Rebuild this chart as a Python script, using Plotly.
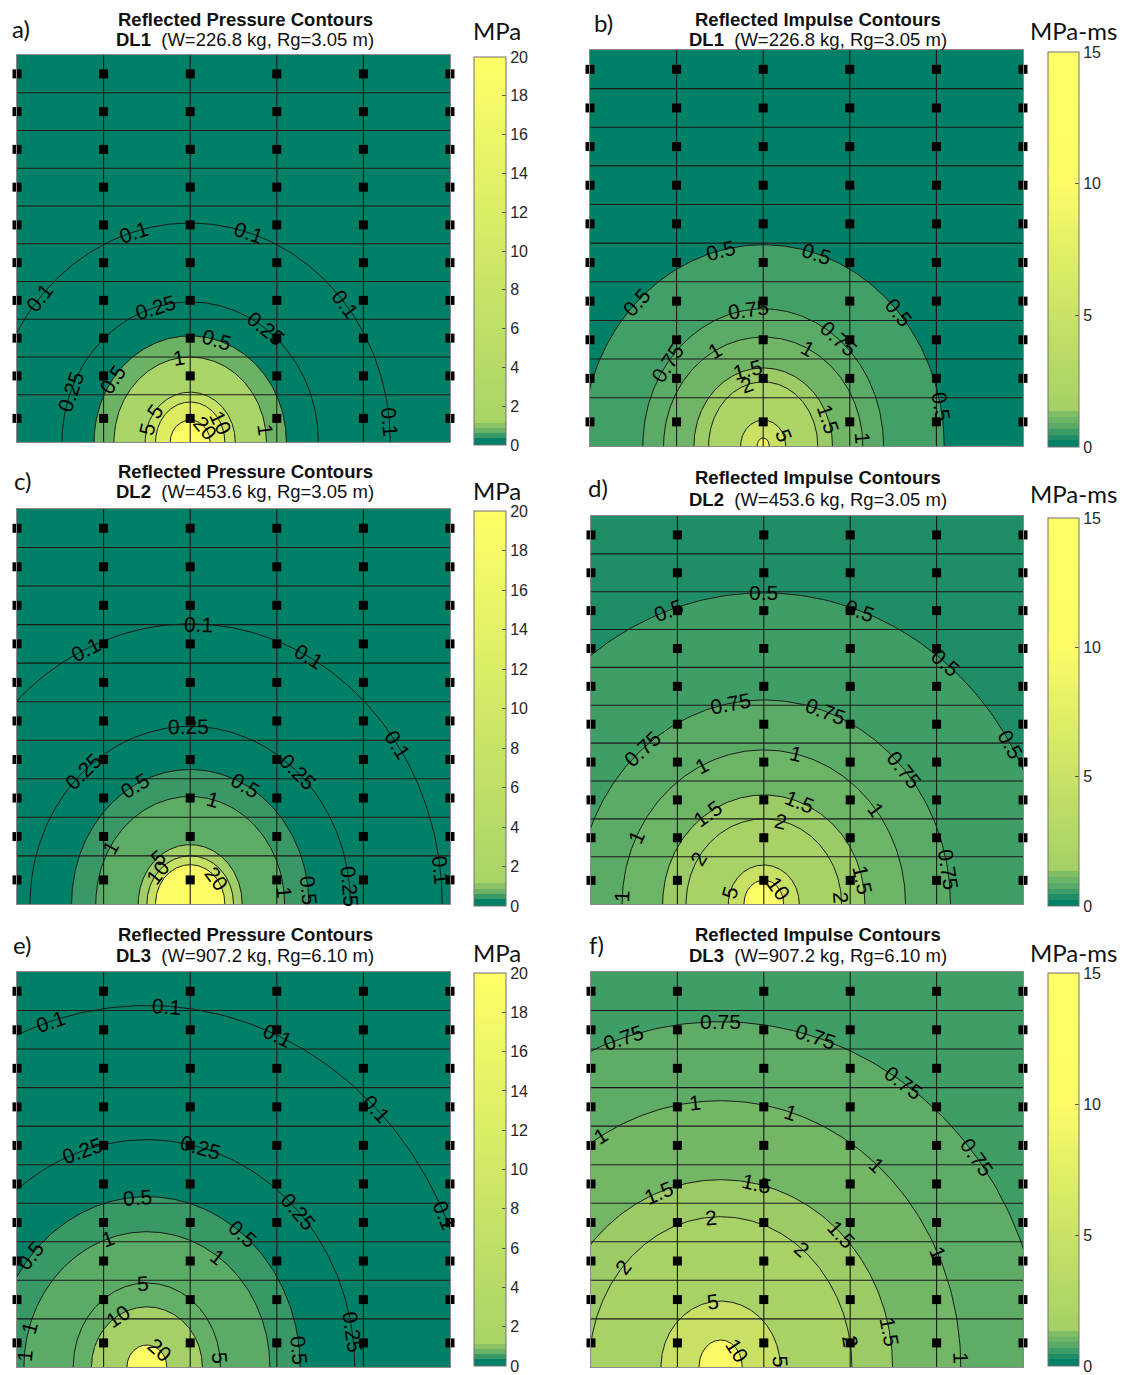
import math
import plotly.graph_objects as go

W, H = 1126, 1367      # figure size (page adds an 8 px body margin)
OFF = 8                # body margin of the page, px

# ---------------- data ----------------
# wall grid (x: column index, y: height units above the base)
COLUMN_X = [0, 1, 2, 3, 4, 5]
VLINE_X = [1, 2, 3, 4]
HLINE_Y = [1.25, 2.25, 3.25, 4.25, 5.25, 6.25, 7.25, 8.25, 9.25]
GAUGE_Y = [0.625, 1.75, 2.75, 3.75, 4.75, 5.75, 6.75, 7.75, 8.75, 9.75]
X_RANGE = [0, 5]
Y_RANGE = [0, 10.25]

P_LEVELS = [0.1, 0.25, 0.5, 1, 5, 10, 20]
I_LEVELS = [0.5, 0.75, 1, 1.5, 2, 5, 10]
F_LEVELS = [0.75, 1, 1.5, 2, 5, 10]

# contour half-widths (rx) and heights (ry), in grid units
A_RX = [2.31, 1.48, 1.11, 0.88, 0.52, 0.40, 0.23]
A_RY = [5.80, 3.71, 2.81, 2.25, 1.32, 1.06, 0.58]
B_RX = [2.09, 1.39, 1.15, 0.80, 0.63, 0.26, 0.07]
B_RY = [5.21, 3.55, 2.82, 2.02, 1.66, 0.67, 0.21]
C_RX = [2.91, 1.85, 1.37, 1.09, 0.60, 0.50, 0.40]
C_RY = [7.27, 4.61, 3.49, 2.79, 1.54, 1.25, 1.02]
D_RX = [3.33, 2.16, 1.64, 1.17, 0.90, 0.41, 0.23]
D_RY = [8.22, 5.39, 4.07, 2.88, 2.25, 1.03, 0.63]
E_RX = [3.79, 2.40, 1.77, 1.42, 0.85, 0.64, 0.23]
E_RY = [9.38, 5.90, 4.42, 3.51, 2.18, 1.56, 0.57]
F_RX = [3.73, 2.78, 1.99, 1.52, 0.69, 0.25]
F_RY = [8.96, 6.91, 4.86, 3.90, 1.71, 0.70]

CENTER_X = {'a': 2.0, 'b': 2.0, 'c': 2.0, 'd': 2.0, 'e': 1.5, 'f': 1.5}

# contour labels: (level, angle along contour in degrees)
A_LABELS = [(0.1, 106.6), (0.1, 73), (0.1, 138.8), (0.1, 39.3), (0.1, 5.3),
            (0.25, 105.9), (0.25, 53.8), (0.25, 158.8), (0.5, 74.4), (0.5, 143.9),
            (1, 98.2), (1, 8.5), (5, 142), (5, 165), (10, 29), (20, 42)]
B_LABELS = [(0.5, 103.7), (0.5, 73), (0.5, 134.5), (0.5, 41.5), (0.5, 11.2),
            (0.75, 97), (0.75, 51.3), (0.75, 142.9), (1, 119), (1, 63.4), (1, 4.4),
            (1.5, 102.7), (1.5, 20.6), (2, 106.8), (5, 24)]
C_LABELS = [(0.1, 88), (0.1, 114.6), (0.1, 61.9), (0.1, 34.7), (0.1, 7),
            (0.25, 90.7), (0.25, 131.9), (0.25, 48), (0.25, 5.6),
            (0.5, 117.9), (0.5, 62.1), (0.5, 6), (1, 76), (1, 148), (1, 6),
            (5, 128), (10, 139), (20, 40.7)]
D_LABELS = [(0.5, 90), (0.5, 109.4), (0.5, 70.6), (0.5, 50.9), (0.5, 30.9),
            (0.75, 100.2), (0.75, 70.6), (0.75, 130.4), (0.75, 41.3), (0.75, 9.6),
            (1, 115.9), (1, 77), (1, 37.7), (1, 154), (1, 177),
            (1.5, 123.6), (1.5, 69.5), (1.5, 12.9), (2, 77), (2, 147.4), (2, 4),
            (5, 162.8), (10, 41.6)]
E_LABELS = [(0.1, 107), (0.1, 86.5), (0.1, 66.5), (0.1, 45.7), (0.1, 24.8),
            (0.25, 108), (0.25, 75), (0.25, 43.2), (0.25, 8.9),
            (0.5, 93.7), (0.5, 51.5), (0.5, 139.3), (0.5, 5.7),
            (1, 108.3), (1, 54.4), (1, 163), (1, 175), (5, 93), (5, 6), (10, 122), (20, 51.8)]
F_LABELS = [(0.75, 107.5), (0.75, 90), (0.75, 72.9), (0.75, 55.5), (0.75, 37.3), (0.75, 18.8),
            (1, 96), (1, 73), (1, 119.8), (1, 49.3), (1, 25.4), (1, 2),
            (1.5, 111), (1.5, 78), (1.5, 45.2), (1.5, 10.9),
            (2, 94), (2, 51.5), (2, 138.3), (2, 9.7), (5, 97), (5, 4.5), (10, 39)]

P_TICKS = [0, 2, 4, 6, 8, 10, 12, 14, 16, 18, 20]
I_TICKS = [0, 5, 10, 15]

# ---------------- styles ----------------
A_FILLS = ['#008066', '#008066', '#6cb264', '#a8d468', '#c6e264', '#deec62', '#fdfd66']
B_FILLS = ['#42a066', '#5aab66', '#70b566', '#9ccb66', '#acd466', '#cae264', '#f2f468']
C_FILLS = ['#008066', '#008066', '#3a9866', '#5cac66', '#a2ce68', '#c6e064', '#fcfc66']
D_FILLS = ['#3f9e66', '#5aab66', '#6cb466', '#9acb66', '#a8d266', '#c8e064', '#fcfc66']
E_FILLS = ['#008066', '#008066', '#389866', '#5aab66', '#64b066', '#a5d066', '#fcfc66']
F_FILLS = ['#5eac66', '#72b666', '#9ccb66', '#a8d266', '#c8e064', '#fafa66']

P_SCALE = [[0.0, '#008066'], [0.017, '#008066'], [0.017, '#3a9a66'], [0.03, '#3a9a66'],
           [0.03, '#6ab266'], [0.043, '#6ab266'], [0.043, '#8cc266'], [0.057, '#8cc266'],
           [0.057, '#a8d466'], [1.0, '#ffff66']]
I_SCALE = [[0.0, '#008066'], [0.0167, '#008066'], [0.0167, '#208e66'], [0.031, '#208e66'],
           [0.031, '#3c9c66'], [0.045, '#3c9c66'], [0.045, '#58aa66'], [0.06, '#58aa66'],
           [0.06, '#6cb466'], [0.075, '#6cb466'], [0.075, '#80be66'], [0.09, '#80be66'],
           [0.09, '#a4d066'], [0.67, '#fcfc66'], [1.0, '#ffff66']]

PANELS = [
    dict(key='a', dom=(17, 450, 55, 442), lv=P_LEVELS, rx=A_RX, ry=A_RY, lab=A_LABELS,
         base='#008066', fills=A_FILLS, t1='Reflected Pressure Contours', dl='DL1',
         t2='(W=226.8 kg, Rg=3.05 m)', tc=(245, 19.5, 40), let=(21, 29), unit='MPa', up=(497, 31),
         cb=(474, 506, 57, 445), scale=P_SCALE, cmax=20, ticks=P_TICKS),
    dict(key='b', dom=(590, 1023, 50, 446), lv=I_LEVELS, rx=B_RX, ry=B_RY, lab=B_LABELS,
         base='#008066', fills=B_FILLS, t1='Reflected Impulse Contours', dl='DL1',
         t2='(W=226.8 kg, Rg=3.05 m)', tc=(818, 19, 39.5), let=(603, 23), unit='MPa-ms', up=(1073, 31),
         cb=(1048, 1079, 52, 447), scale=I_SCALE, cmax=15, ticks=I_TICKS),
    dict(key='c', dom=(17, 450, 509, 904), lv=P_LEVELS, rx=C_RX, ry=C_RY, lab=C_LABELS,
         base='#008066', fills=C_FILLS, t1='Reflected Pressure Contours', dl='DL2',
         t2='(W=453.6 kg, Rg=3.05 m)', tc=(245, 471, 492), let=(23, 480), unit='MPa', up=(497, 490),
         cb=(474, 506, 511, 906), scale=P_SCALE, cmax=20, ticks=P_TICKS),
    dict(key='d', dom=(591, 1023, 516, 904), lv=I_LEVELS, rx=D_RX, ry=D_RY, lab=D_LABELS,
         base='#1f8e66', fills=D_FILLS, t1='Reflected Impulse Contours', dl='DL2',
         t2='(W=453.6 kg, Rg=3.05 m)', tc=(818, 478, 500), let=(598, 487), unit='MPa-ms', up=(1073, 494),
         cb=(1048, 1079, 518, 906), scale=I_SCALE, cmax=15, ticks=I_TICKS),
    dict(key='e', dom=(17, 450, 972, 1367), lv=P_LEVELS, rx=E_RX, ry=E_RY, lab=E_LABELS,
         base='#008066', fills=E_FILLS, t1='Reflected Pressure Contours', dl='DL3',
         t2='(W=907.2 kg, Rg=6.10 m)', tc=(245, 934, 955), let=(23, 944), unit='MPa', up=(497, 952),
         cb=(474, 506, 973, 1366), scale=P_SCALE, cmax=20, ticks=P_TICKS),
    dict(key='f', dom=(591, 1023, 972, 1367), lv=F_LEVELS, rx=F_RX, ry=F_RY, lab=F_LABELS,
         base='#3f9e66', fills=F_FILLS, t1='Reflected Impulse Contours', dl='DL3',
         t2='(W=907.2 kg, Rg=6.10 m)', tc=(818, 934, 955), let=(596, 944), unit='MPa-ms', up=(1073, 952),
         cb=(1048, 1079, 973, 1366), scale=I_SCALE, cmax=15, ticks=I_TICKS),
]

ARIAL = 'Liberation Sans, Arial, sans-serif'
CALIBRI = 'Lato, Carlito, sans-serif'

fig = go.Figure()
shapes, annotations = [], []
layout_axes = {}


def px(x):
    return (x - OFF) / W


def py(y):
    return 1 - (y - OFF) / H


for i, p in enumerate(PANELS, start=1):
    s = '' if i == 1 else str(i)
    xr, yr = 'x' + s, 'y' + s
    x0, x1, y0, y1 = p['dom']
    layout_axes['xaxis' + s] = dict(domain=[px(x0), px(x1)], range=X_RANGE, anchor=yr,
                                   showgrid=False, zeroline=False, showticklabels=False,
                                   ticks='', showline=True, mirror=True, linecolor='#8a8a8a',
                                   linewidth=1, fixedrange=True)
    layout_axes['yaxis' + s] = dict(domain=[py(y1), py(y0)], range=Y_RANGE, anchor=xr,
                                   showgrid=False, zeroline=False, showticklabels=False,
                                   ticks='', showline=True, mirror=True, linecolor='#8a8a8a',
                                   linewidth=1, fixedrange=True)
    # base band (below the lowest contour level)
    shapes.append(dict(type='rect', xref=xr, yref=yr, x0=X_RANGE[0], x1=X_RANGE[1],
                       y0=Y_RANGE[0], y1=Y_RANGE[1], fillcolor=p['base'],
                       line=dict(width=0), layer='below'))
    cx = CENTER_X[p['key']]
    sx = (x1 - x0) / (X_RANGE[1] - X_RANGE[0])
    sy = (y1 - y0) / (Y_RANGE[1] - Y_RANGE[0])
    th = [math.radians(t) for t in range(0, 181)]
    for lvl, rx, ry, col in zip(p['lv'], p['rx'], p['ry'], p['fills']):
        fig.add_trace(go.Scatter(
            x=[cx + rx * math.cos(t) for t in th], y=[ry * math.sin(t) for t in th],
            mode='lines', fill='toself', fillcolor=col,
            line=dict(color='#151515', width=0.95), xaxis=xr, yaxis=yr,
            hoverinfo='skip', showlegend=False))
    # grid lines
    gx, gy = [], []
    for v in VLINE_X:
        gx += [v, v, None]
        gy += [Y_RANGE[0], Y_RANGE[1], None]
    for h in HLINE_Y:
        gx += [X_RANGE[0], X_RANGE[1], None]
        gy += [h, h, None]
    fig.add_trace(go.Scatter(x=gx, y=gy, mode='lines', line=dict(color='#1a1a1a', width=1.1),
                             xaxis=xr, yaxis=yr, hoverinfo='skip', showlegend=False))
    # gauge markers
    mx = [c for c in COLUMN_X for _ in GAUGE_Y]
    my = [g for _ in COLUMN_X for g in GAUGE_Y]
    fig.add_trace(go.Scatter(x=mx, y=my, mode='markers',
                             marker=dict(symbol='square', size=9, color='black', line=dict(width=0)),
                             cliponaxis=False, xaxis=xr, yaxis=yr, hoverinfo='skip', showlegend=False))
    # contour labels
    idx = {lv: k for k, lv in enumerate(p['lv'])}
    for lvl, ang in p['lab']:
        k = idx[lvl]
        rx, ry = p['rx'][k], p['ry'][k]
        t = math.radians(ang)
        lx = cx + rx * math.cos(t)
        ly = ry * math.sin(t)
        tan = math.degrees(math.atan2(ry * sy * math.cos(t), -rx * sx * math.sin(t)))
        while tan > 90:
            tan -= 180
        while tan <= -90:
            tan += 180
        annotations.append(dict(x=lx, y=ly, xref=xr, yref=yr, text=f'{lvl:g}', showarrow=False,
                                textangle=-tan, font=dict(family=ARIAL, size=21, color='black'),
                                xanchor='center', yanchor='middle'))
    # titles
    tcx, ty1, ty2 = p['tc']
    annotations.append(dict(x=px(tcx), y=py(ty1), xref='paper', yref='paper', showarrow=False,
                            text='<b>' + p['t1'] + '</b>', font=dict(family=ARIAL, size=18.5, color='#111'),
                            xanchor='center', yanchor='middle'))
    annotations.append(dict(x=px(tcx), y=py(ty2), xref='paper', yref='paper', showarrow=False,
                            text='<b>' + p['dl'] + '</b>\u00a0\u00a0' + p['t2'],
                            font=dict(family=ARIAL, size=18.5, color='#111'),
                            xanchor='center', yanchor='middle'))
    annotations.append(dict(x=px(p['let'][0]), y=py(p['let'][1]), xref='paper', yref='paper',
                            showarrow=False, text=p['key'] + ')',
                            font=dict(family=CALIBRI, size=24, color='#111'),
                            xanchor='center', yanchor='middle'))
    annotations.append(dict(x=px(p['up'][0]), y=py(p['up'][1]), xref='paper', yref='paper',
                            showarrow=False, text=p['unit'],
                            font=dict(family=CALIBRI, size=24, color='#111'),
                            xanchor='center', yanchor='middle'))
    # colour bar
    c0, c1, cy0, cy1 = p['cb']
    fig.add_trace(go.Scatter(
        x=[None], y=[None], mode='markers', xaxis=xr, yaxis=yr, showlegend=False, hoverinfo='skip',
        marker=dict(color=[0], cmin=0, cmax=p['cmax'], colorscale=p['scale'], showscale=True,
                    colorbar=dict(x=px(c0), xanchor='left', xpad=0, y=py(cy0), yanchor='top', ypad=0,
                                  len=cy1 - cy0, lenmode='pixels', thickness=c1 - c0,
                                  thicknessmode='pixels', outlinewidth=1, outlinecolor='#707070',
                                  ticks='inside', ticklen=4, tickwidth=1, tickcolor='#555',
                                  tickmode='array', tickvals=p['ticks'], ticklabeloverflow='allow',
                                  tickfont=dict(family=ARIAL, size=16, color='#262626')))))

fig.update_layout(width=W, height=H, margin=dict(l=0, r=0, t=0, b=0, autoexpand=False),
                  paper_bgcolor='white', plot_bgcolor='white',
                  shapes=shapes, annotations=annotations, showlegend=False, **layout_axes)

fig.write_html('out.html')
